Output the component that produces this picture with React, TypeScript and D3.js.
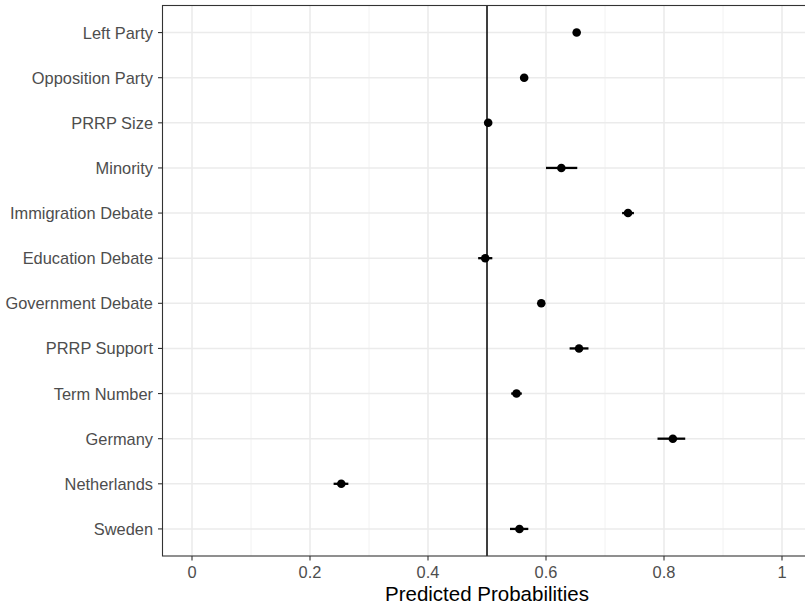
import React, { useEffect, useRef } from 'react'
import * as d3 from 'd3'

// predictors, top to bottom
const categories = [
  'Left Party',
  'Opposition Party',
  'PRRP Size',
  'Minority',
  'Immigration Debate',
  'Education Debate',
  'Government Debate',
  'PRRP Support',
  'Term Number',
  'Germany',
  'Netherlands',
  'Sweden'
]
const estimates = [0.652, 0.563, 0.502, 0.626, 0.739, 0.497, 0.592, 0.656, 0.55, 0.815, 0.253, 0.555]
const lower = [0.647, 0.558, 0.498, 0.6, 0.729, 0.485, 0.588, 0.64, 0.541, 0.789, 0.24, 0.539]
const upper = [0.657, 0.567, 0.507, 0.653, 0.749, 0.509, 0.596, 0.672, 0.559, 0.836, 0.265, 0.57]
const xTicks = [0, 0.2, 0.4, 0.6, 0.8, 1]
const xMinor = [0.1, 0.3, 0.5, 0.7, 0.9]
const refLine = 0.5

const width = 805
const height = 605
const font = '"Liberation Sans", Arial, sans-serif'

export default function App() {
  const ref = useRef<SVGSVGElement>(null)

  useEffect(() => {
    document.body.style.margin = '0'
    const svg = d3.select(ref.current)
    svg.selectAll('*').remove()

    const left = 162.5
    const right = 811.5
    const top = 5.5
    const bottom = 556

    // ggplot style: limits 0..1 with 5% expansion
    const x = d3.scaleLinear().domain([-0.05, 1.05]).range([left, right])
    const y = d3.scalePoint<string>().domain(categories).range([top, bottom]).padding(0.6)

    // panel background
    svg.append('rect')
      .attr('x', left).attr('y', top)
      .attr('width', right - left).attr('height', bottom - top)
      .attr('fill', 'white')

    // minor grid
    svg.append('g').selectAll('line').data(xMinor).enter().append('line')
      .attr('x1', d => x(d)).attr('x2', d => x(d))
      .attr('y1', top).attr('y2', bottom)
      .attr('stroke', '#F0F0F0').attr('stroke-width', 0.9)

    // major grid
    svg.append('g').selectAll('line').data(xTicks).enter().append('line')
      .attr('x1', d => x(d)).attr('x2', d => x(d))
      .attr('y1', top).attr('y2', bottom)
      .attr('stroke', '#EBEBEB').attr('stroke-width', 1.6)
    svg.append('g').selectAll('line').data(categories).enter().append('line')
      .attr('x1', left).attr('x2', right)
      .attr('y1', d => y(d)!).attr('y2', d => y(d)!)
      .attr('stroke', '#EBEBEB').attr('stroke-width', 1.6)

    // reference line
    svg.append('line')
      .attr('x1', x(refLine)).attr('x2', x(refLine))
      .attr('y1', top).attr('y2', bottom)
      .attr('stroke', 'black').attr('stroke-width', 1.5)

    // error bars
    svg.append('g').selectAll('line').data(categories).enter().append('line')
      .attr('x1', (d, i) => x(lower[i])).attr('x2', (d, i) => x(upper[i]))
      .attr('y1', d => y(d)!).attr('y2', d => y(d)!)
      .attr('stroke', 'black').attr('stroke-width', 2.3)

    // points
    svg.append('g').selectAll('circle').data(categories).enter().append('circle')
      .attr('cx', (d, i) => x(estimates[i]))
      .attr('cy', d => y(d)!)
      .attr('r', 4.3)
      .attr('fill', 'black')

    // panel border
    svg.append('rect')
      .attr('x', left).attr('y', top)
      .attr('width', right - left).attr('height', bottom - top)
      .attr('fill', 'none').attr('stroke', '#333333').attr('stroke-width', 1.1)

    // x axis
    const xa = svg.append('g')
    xa.selectAll('line').data(xTicks).enter().append('line')
      .attr('x1', d => x(d)).attr('x2', d => x(d))
      .attr('y1', bottom).attr('y2', bottom + 4.5)
      .attr('stroke', '#333333').attr('stroke-width', 1.1)
    xa.selectAll('text').data(xTicks).enter().append('text')
      .attr('x', d => x(d)).attr('y', 578)
      .attr('text-anchor', 'middle')
      .attr('font-family', font).attr('font-size', 16.4)
      .attr('fill', '#4D4D4D')
      .text(d => String(d))

    // y axis
    const ya = svg.append('g')
    ya.selectAll('line').data(categories).enter().append('line')
      .attr('x1', left - 4.5).attr('x2', left)
      .attr('y1', d => y(d)!).attr('y2', d => y(d)!)
      .attr('stroke', '#333333').attr('stroke-width', 1.1)
    ya.selectAll('text').data(categories).enter().append('text')
      .attr('x', left - 9.5).attr('y', d => y(d)! + 6)
      .attr('text-anchor', 'end')
      .attr('font-family', font).attr('font-size', 16.4)
      .attr('fill', '#4D4D4D')
      .text(d => d)

    // axis title
    svg.append('text')
      .attr('x', (left + right) / 2).attr('y', 601)
      .attr('text-anchor', 'middle')
      .attr('font-family', font).attr('font-size', 20.5)
      .attr('fill', 'black')
      .text('Predicted Probabilities')
  }, [])

  return <svg ref={ref} width={width} height={height} style={{ display: 'block' }} />
}
